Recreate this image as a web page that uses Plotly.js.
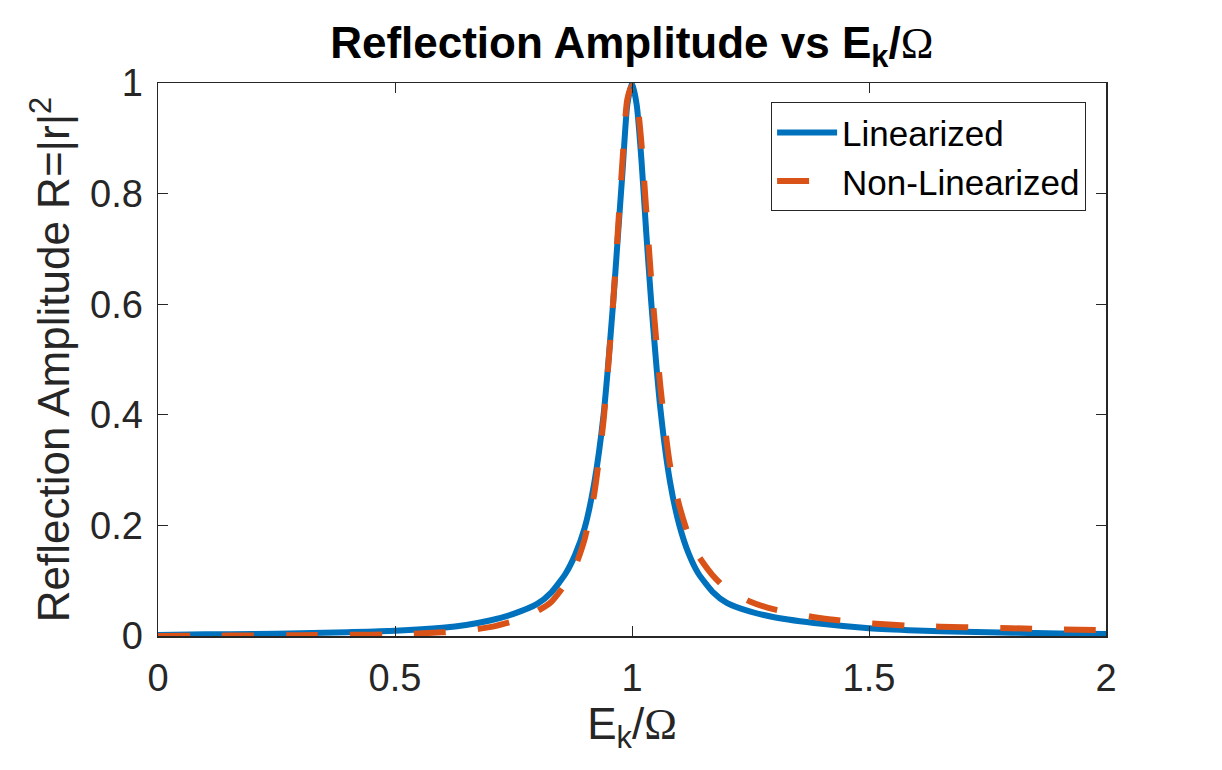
<!DOCTYPE html>
<html>
<head>
<meta charset="utf-8">
<script src="https://cdn.plot.ly/plotly-3.0.1.min.js"></script>
<style>
	body { margin: 0; background: #fff; }
	#chart { width: 1222px; height: 770px; }
</style>
</head>
<body>
<div id="chart"></div>
<script>
// values
const energyRatio = [
	0, 0.1, 0.2, 0.3, 0.4, 0.5, 0.6, 0.65, 0.7, 0.75,
	0.8, 0.83, 0.86, 0.88, 0.9, 0.92, 0.94, 0.96, 0.97, 0.98,
	0.99, 1.0, 1.01, 1.02, 1.03, 1.04, 1.06, 1.08, 1.1, 1.12,
	1.14, 1.17, 1.2, 1.25, 1.3, 1.4, 1.5, 1.6, 1.7, 1.8,
	1.9, 2.0
];

const linearized = [
	0.002, 0.003, 0.0035, 0.005, 0.007, 0.0096, 0.015, 0.02, 0.028, 0.04,
	0.058, 0.079, 0.113, 0.147, 0.195, 0.275, 0.40, 0.60, 0.72, 0.84,
	0.96, 1.0, 0.96, 0.86, 0.73, 0.61, 0.41, 0.28, 0.2, 0.148,
	0.113, 0.08, 0.06, 0.044, 0.034, 0.022, 0.014, 0.010, 0.0075, 0.006,
	0.0045, 0.0035
];

const nonLinearized = [
	0.0, 0.0005, 0.001, 0.0015, 0.002, 0.003, 0.0066, 0.01, 0.016, 0.027,
	0.045, 0.062, 0.095, 0.125, 0.175, 0.255, 0.39, 0.60, 0.73, 0.86,
	0.97, 0.995, 0.97, 0.89, 0.77, 0.65, 0.45, 0.31, 0.235, 0.18,
	0.145, 0.11, 0.085, 0.062, 0.048, 0.032, 0.023, 0.018, 0.016, 0.014,
	0.012, 0.0105
];

const xTicks = [0, 0.5, 1, 1.5, 2];
const xTickText = ["0", "0.5", "1", "1.5", "2"];
const yTicks = [0, 0.2, 0.4, 0.6, 0.8, 1];
const yTickText = ["0", "0.2", "0.4", "0.6", "0.8", "1"];

const FONT = "Liberation Sans, Arial, Helvetica, sans-serif";
const OMEGA = '<span style="font-family:Liberation Serif, Times New Roman, serif;font-weight:normal">Ω</span>';
const AXIS_COLOR = "#262626";

let data = [{
	x: energyRatio,
	y: linearized,
	name: "Linearized",
	type: "scatter",
	mode: "lines",
	line: { color: "#0072BD", width: 6, shape: "spline", smoothing: 0.6 }
}, {
	x: energyRatio,
	y: nonLinearized,
	name: "Non-Linearized",
	type: "scatter",
	mode: "lines",
	line: { color: "#D95319", width: 6, dash: "32px,32px", shape: "spline", smoothing: 0.6 }
}];

function axisStyle(ticks, labels, range) {
	return {
		range: range,
		tickmode: "array",
		tickvals: ticks,
		ticktext: labels,
		ticks: "inside",
		ticklen: 10,
		tickwidth: 1,
		tickcolor: AXIS_COLOR,
		showline: true,
		linecolor: AXIS_COLOR,
		linewidth: 1.5,
		mirror: "ticks",
		showgrid: false,
		zeroline: false,
		tickfont: { family: FONT, size: 38, color: AXIS_COLOR }
	};
}

let xaxis = axisStyle(xTicks, xTickText, [0, 2]);
xaxis.ticklabelstandoff = 8;
xaxis.title = { text: "E<sub>k</sub>/" + OMEGA, font: { family: FONT, size: 44, color: AXIS_COLOR }, standoff: 2 };

let yaxis = axisStyle(yTicks, yTickText, [0, 1]);
yaxis.ticklabelstandoff = 6;
yaxis.title = { text: "Reflection Amplitude R=|r|<sup>2</sup>", font: { family: FONT, size: 44, color: AXIS_COLOR }, standoff: 6 };

let layout = {
	width: 1222,
	height: 770,
	margin: { l: 158, r: 116, t: 83, b: 134 },
	paper_bgcolor: "#fff",
	plot_bgcolor: "#fff",
	title: {
		text: "<b>Reflection Amplitude vs E<sub>k</sub>/" + OMEGA + "</b>",
		font: { family: FONT, size: 44, color: "#000" },
		x: 0.517,
		xanchor: "center",
		y: 0.945,
		yanchor: "middle"
	},
	xaxis: xaxis,
	yaxis: yaxis,
	showlegend: true,
	legend: {
		x: 0.979,
		y: 0.965,
		xanchor: "right",
		yanchor: "top",
		bgcolor: "#fff",
		bordercolor: AXIS_COLOR,
		borderwidth: 1,
		itemwidth: 60,
		font: { family: FONT, size: 35, color: "#000" },
		tracegroupgap: 0
	}
};

Plotly.newPlot("chart", data, layout, { displayModeBar: false, staticPlot: true });
</script>
</body>
</html>
